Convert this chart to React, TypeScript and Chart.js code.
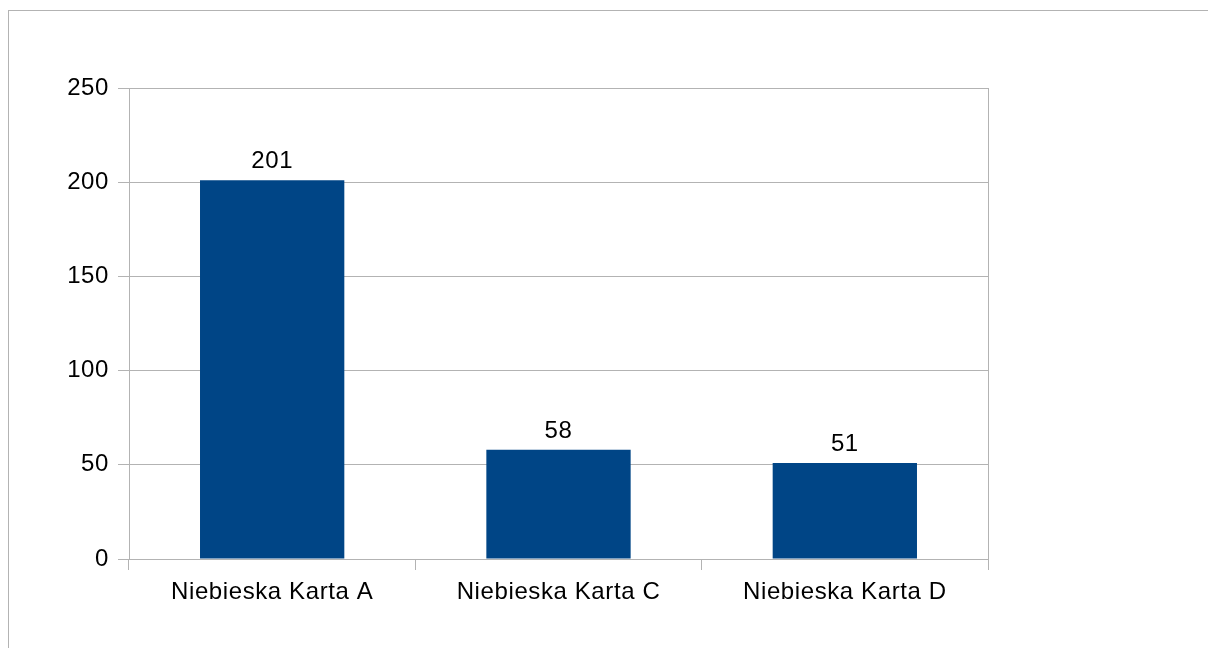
import React, { useEffect, useRef } from "react";
import { Chart, registerables } from "chart.js";

Chart.register(...registerables);

const categories = ["Niebieska Karta A", "Niebieska Karta C", "Niebieska Karta D"];
const values = [201, 58, 51];
const yTicks = [0, 50, 100, 150, 200, 250];

const FONT = "'Liberation Sans', Arial, sans-serif";
const GRID = "#b3b3b3";
const BAR = "#004586";

const spacingPlugin = {
  id: "letterSpacing",
  beforeDraw(chart: any) {
    (chart.ctx as any).letterSpacing = "0.6px";
  },
};

const labelPlugin = {
  id: "valueLabels",
  afterDatasetsDraw(chart: any) {
    const ctx = chart.ctx;
    const meta = chart.getDatasetMeta(0);
    ctx.save();
    ctx.font = `24px ${FONT}`;
    ctx.fillStyle = "#000";
    ctx.textAlign = "center";
    ctx.textBaseline = "alphabetic";
    meta.data.forEach((bar: any, i: number) => {
      ctx.fillText(String(values[i]), bar.x, bar.y - 12);
    });
    ctx.restore();
  },
};

const framePlugin = {
  id: "plotFrame",
  beforeDatasetsDraw(chart: any) {
    const { ctx, chartArea } = chart;
    ctx.save();
    ctx.strokeStyle = GRID;
    ctx.lineWidth = 1;
    const x = Math.round(chartArea.right) + 0.5;
    ctx.beginPath();
    ctx.moveTo(x, Math.round(chartArea.top));
    ctx.lineTo(x, Math.round(chartArea.bottom));
    ctx.stroke();
    ctx.restore();
  },
};

export default function App() {
  const ref = useRef<HTMLCanvasElement>(null);
  useEffect(() => {
    if (!ref.current) return;
    const chart = new Chart(ref.current, {
      type: "bar",
      data: {
        labels: categories,
        datasets: [
          {
            data: values,
            backgroundColor: BAR,
            borderWidth: 0,
            barPercentage: 0.504,
            categoryPercentage: 1,
          },
        ],
      },
      options: {
        animation: false,
        responsive: false,
        maintainAspectRatio: false,
        layout: { padding: { left: 0, top: 88, right: 220, bottom: 39 } },
        plugins: { legend: { display: false }, tooltip: { enabled: false } },
        scales: {
          x: {
            offset: true,
            grid: {
              offset: true,
              drawOnChartArea: false,
              drawTicks: true,
              tickLength: 11,
              color: GRID,
            },
            border: { display: true, color: GRID },
            ticks: {
              color: "#000",
              font: { family: FONT, size: 24 },
              padding: 8,
              maxRotation: 0,
            },
            afterFit(scale: any) {
              scale.height = 50;
            },
          },
          y: {
            min: 0,
            max: 250,
            afterBuildTicks(scale: any) {
              scale.ticks = yTicks.map((v) => ({ value: v }));
            },
            grid: { color: GRID, tickLength: 11, drawTicks: true },
            border: { display: true, color: GRID },
            ticks: {
              color: "#000",
              font: { family: FONT, size: 24 },
              padding: 9,
            },
            afterFit(scale: any) {
              scale.width = 129;
            },
          },
        },
      },
      plugins: [spacingPlugin, labelPlugin, framePlugin],
    });
    return () => chart.destroy();
  }, []);

  return (
    <div
      style={{
        position: "fixed",
        left: 0,
        top: 0,
        width: 1208,
        height: 648,
        overflow: "hidden",
        background: "#fff",
      }}
    >
      <div
        style={{
          position: "absolute",
          left: 8,
          top: 10,
          width: 1300,
          height: 700,
          border: `1px solid ${GRID}`,
        }}
      />
      <canvas
        ref={ref}
        width={1208}
        height={648}
        style={{ position: "absolute", left: 0, top: 0, width: 1208, height: 648 }}
      />
    </div>
  );
}
